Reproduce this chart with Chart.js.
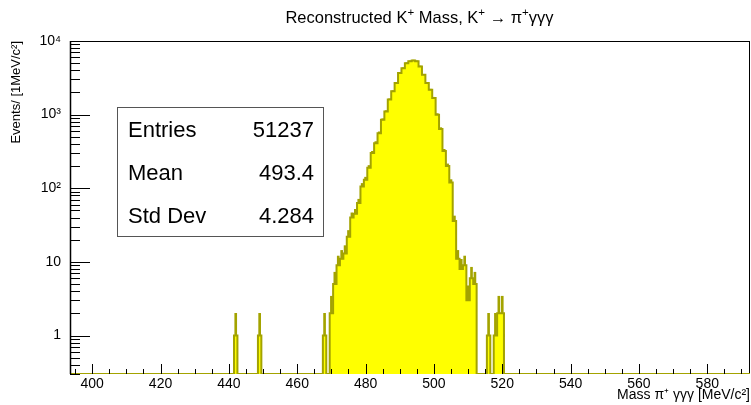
<!DOCTYPE html>
<html>
<head>
<meta charset="utf-8">
<script src="https://cdn.jsdelivr.net/npm/chart.js@4.4.0/dist/chart.umd.min.js"></script>
<style>
  html, body { margin: 0; padding: 0; background: #fff; }
  #wrap { width: 751px; height: 405px; }
</style>
</head>
<body>
<div id="wrap"><canvas id="massChart" width="751" height="405"></canvas></div>
<script>
// Histogram range: 1 MeV bins centred on integer masses
const xMin = 393.5;
const xMax = 592.5;
const binWidth = 1;

// Non-empty bins (bin centre in MeV/c^2) and their event counts
const massBins = [442, 449, 468, 470, 471, 472, 473, 474, 475, 476, 477, 478, 479, 480,
                  481, 482, 483, 484, 485, 486, 487, 488, 489, 490, 491, 492, 493, 494,
                  495, 496, 497, 498, 499, 500, 501, 502, 503, 504, 505, 506, 507, 508,
                  509, 510, 511, 512, 516, 518, 519, 520];
const counts = [1, 1, 1, 2, 5, 9, 11, 13, 22, 40, 45, 63, 106, 130,
                190, 300, 410, 560, 850, 1100, 1600, 2070, 2680, 3670, 4270, 5000, 5300, 5430,
                5300, 4510, 3470, 2680, 2170, 1680, 1000, 640, 320, 200, 120, 36, 11, 8,
                9, 3, 6, 5, 1, 1, 2, 2];

// Axes
const xTickValues = [400, 420, 440, 460, 480, 500, 520, 540, 560, 580];
const xMinorStep = 5;
const yMin = 0.3;
const yMax = 10000;
const yTickValues = [1, 10, 100, 1000, 10000];
const yTickLabels = ['1', '10', '10\u00B2', '10\u00B3', '10\u2074'];

// Stats box
const statNames = ['Entries', 'Mean', 'Std Dev'];
const statValues = ['51237', '493.4', '4.284'];

const FONT = "'Liberation Sans', Arial, Helvetica, sans-serif";
const lineColor = '#a3a300';
const fillColor = '#ffff00';

// step outline points at the low edge of every bin
const histPoints = [];
const nBins = Math.round((xMax - xMin) / binWidth);
for (let i = 0; i < nBins; i++) {
    const centre = xMin + binWidth * (i + 0.5);
    const k = massBins.indexOf(centre);
    const n = k >= 0 ? counts[k] : 0;
    histPoints.push({ x: centre - binWidth / 2, y: n > 0 ? n : yMin });
}
histPoints.push({ x: xMax, y: histPoints[histPoints.length - 1].y });

// upper Poisson error bars (the lower half is hidden under the fill)
const errorBars = massBins.map((m, i) => ({ x: m, y: [counts[i], counts[i] + Math.sqrt(counts[i])] }));

// draws text with simple superscripts, parts = [[text, isSup], ...]
function richWidth(ctx, parts, size) {
    let w = 0;
    parts.forEach(([t, sup]) => {
        ctx.font = (sup ? size * 0.7 : size) + 'px ' + FONT;
        w += ctx.measureText(t).width;
    });
    return w;
}
function drawRich(ctx, parts, x, y, size) {
    parts.forEach(([t, sup]) => {
        ctx.font = (sup ? size * 0.7 : size) + 'px ' + FONT;
        ctx.fillText(t, x, sup ? y - size * 0.4 : y);
        x += ctx.measureText(t).width;
    });
}

const titleParts = [['Reconstructed K', false], ['+', true], [' Mass, K', false], ['+', true],
                    [' \u2192 \u03C0', false], ['+', true], ['\u03B3\u03B3\u03B3', false]];

const rootFrame = {
    id: 'rootFrame',
    beforeDatasetsDraw(chart) {
        const { ctx, chartArea: a } = chart;
        ctx.save();
        ctx.strokeStyle = '#000';
        ctx.lineWidth = 1;
        ctx.strokeRect(a.left + 0.5, a.top + 0.5, a.right - a.left - 1, a.bottom - a.top - 1);
        ctx.restore();
    },
    afterDatasetsDraw(chart) {
        const { ctx, chartArea: a, scales } = chart;
        const xs = scales.x, ys = scales.y;
        ctx.save();
        ctx.strokeStyle = '#000';
        ctx.lineWidth = 1;
        ctx.beginPath();
        // x ticks, pointing up into the frame
        for (let v = Math.ceil(xMin / xMinorStep) * xMinorStep; v <= xMax; v += xMinorStep) {
            const px = Math.round(xs.getPixelForValue(v)) + 0.5;
            const len = xTickValues.includes(v) ? 10 : 5;
            ctx.moveTo(px, a.bottom);
            ctx.lineTo(px, a.bottom - len);
        }
        // y ticks, pointing right into the frame
        for (let d = 0.1; d <= yMax; d *= 10) {
            for (let k = 1; k <= 9; k++) {
                const v = Math.round(d * k * 1000) / 1000;
                if (v < yMin || v > yMax) continue;
                const py = Math.round(ys.getPixelForValue(v)) + 0.5;
                const len = k === 1 ? 20 : 10;
                ctx.moveTo(a.left, py);
                ctx.lineTo(a.left + len, py);
            }
        }
        ctx.stroke();
        // left axis line
        ctx.lineWidth = 1.5;
        ctx.beginPath();
        ctx.moveTo(a.left + 0.5, a.top);
        ctx.lineTo(a.left + 0.5, a.bottom);
        ctx.stroke();
        ctx.restore();
    },
    afterDraw(chart) {
        const { ctx } = chart;
        ctx.save();
        ctx.fillStyle = '#000';
        ctx.textBaseline = 'alphabetic';
        // title
        const size = 16.5;
        const w = richWidth(ctx, titleParts, size);
        drawRich(ctx, titleParts, 419.5 - w / 2, 23, size);

        // stats box
        const bx = 117.5, by = 107.5, bw = 206, bh = 129;
        ctx.fillStyle = '#fff';
        ctx.fillRect(bx, by, bw, bh);
        ctx.strokeStyle = '#555';
        ctx.lineWidth = 1;
        ctx.strokeRect(bx, by, bw, bh);
        ctx.fillStyle = '#000';
        ctx.font = '22px ' + FONT;
        const rowH = bh / statNames.length;
        statNames.forEach((name, i) => {
            const yb = by + rowH * (i + 0.5) + 8;
            ctx.textAlign = 'left';
            ctx.fillText(name, bx + 10.5, yb);
            ctx.textAlign = 'right';
            ctx.fillText(statValues[i], bx + bw - 9.5, yb);
        });
        ctx.restore();
    }
};

new Chart(document.getElementById('massChart'), {
    type: 'line',
    data: {
        datasets: [{
            type: 'line',
            data: histPoints,
            stepped: 'before',
            borderColor: lineColor,
            borderWidth: 2,
            backgroundColor: fillColor,
            fill: 'start',
            pointRadius: 0,
            tension: 0,
            order: 2
        }, {
            type: 'bar',
            data: errorBars,
            backgroundColor: lineColor,
            borderWidth: 0,
            barThickness: 2,
            grouped: false,
            order: 1
        }]
    },
    options: {
        responsive: false,
        animation: false,
        events: [],
        layout: { padding: { top: 41, right: 1, left: 0, bottom: 0 } },
        plugins: {
            legend: { display: false },
            title: { display: false },
            tooltip: { enabled: false }
        },
        scales: {
            x: {
                type: 'linear',
                min: xMin,
                max: xMax,
                offset: false,
                grid: { display: false, drawTicks: false },
                border: { display: false },
                afterBuildTicks: s => { s.ticks = xTickValues.map(v => ({ value: v })); },
                afterFit: s => { s.height = 31; },
                ticks: {
                    color: '#000',
                    padding: 2,
                    maxRotation: 0,
                    autoSkip: false,
                    font: { family: FONT, size: 14 },
                    callback: v => String(v)
                },
                title: {
                    display: true,
                    text: 'Mass \u03C0\u207A \u03B3\u03B3\u03B3 [MeV/c\u00B2]',
                    align: 'end',
                    color: '#000',
                    font: { family: FONT, size: 14 },
                    padding: { top: 0, bottom: 1 }
                }
            },
            y: {
                type: 'logarithmic',
                min: yMin,
                max: yMax,
                grid: { display: false, drawTicks: false },
                border: { display: false },
                afterBuildTicks: s => { s.ticks = yTickValues.map(v => ({ value: v })); },
                afterFit: s => { s.width = 70; },
                ticks: {
                    color: '#000',
                    padding: 9,
                    autoSkip: false,
                    font: { family: FONT, size: 14 },
                    callback: v => {
                        const i = yTickValues.indexOf(v);
                        return i >= 0 ? yTickLabels[i] : '';
                    }
                },
                title: {
                    display: true,
                    text: 'Events/ [1MeV/c\u00B2]',
                    align: 'end',
                    color: '#000',
                    font: { family: FONT, size: 13 },
                    padding: { top: 9, bottom: 0 }
                }
            }
        }
    },
    plugins: [rootFrame]
});
</script>
</body>
</html>
